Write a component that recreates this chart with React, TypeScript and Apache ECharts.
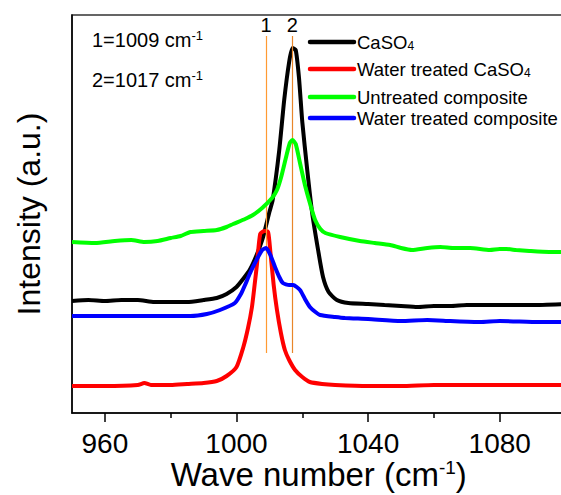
import React, { useEffect, useRef } from "react";
import * as echarts from "echarts";

const FONT = "Liberation Sans, Arial, Helvetica, sans-serif";

const xTickValues = [960, 1000, 1040, 1080];
const xMinorTickValues = [980, 1020, 1060, 1100];

const caso4X = [950, 955, 960, 965, 970, 975, 980, 985, 990, 994, 997, 1000, 1002, 1004, 1006, 1008, 1010, 1011, 1013, 1014.5, 1016, 1017, 1018, 1019, 1020, 1021.5, 1023, 1024.8, 1026.3, 1028, 1030.5, 1034, 1040, 1045, 1050, 1055, 1060, 1065, 1070, 1075, 1080, 1090, 1100];
const caso4Y = [112, 113, 112, 113, 113, 111, 111, 111, 113, 115, 119, 126, 134, 143, 157, 175, 201, 213, 263, 313, 351, 365, 363, 335, 291, 243, 200, 163, 136, 121, 113, 110, 109, 108, 107, 106, 107, 107, 108, 108, 108, 108, 109];

const waterCaso4X = [950, 960, 970, 972, 974, 980, 985, 990, 994, 997, 1000, 1002, 1003.5, 1004.7, 1005.5, 1006.2, 1007.2, 1008.5, 1009.6, 1010.3, 1011.3, 1012.3, 1013.5, 1014.7, 1016, 1017.8, 1020, 1022.3, 1026, 1030, 1040, 1050, 1060, 1070, 1080, 1090, 1100];
const waterCaso4Y = [27, 27, 28, 30, 28, 28, 29, 30, 32, 37, 46, 65, 85, 106, 128, 148, 179, 182, 181, 161, 128, 103, 80, 63, 53, 43, 36, 31, 29, 28, 27, 27, 28, 28, 28, 28, 28];

const untreatedX = [950, 957, 963, 968, 972, 976, 980, 983, 986, 990, 994, 997, 999, 1002.6, 1005, 1007.8, 1010.8, 1012.3, 1013.5, 1015, 1016.2, 1017, 1018, 1019.3, 1020.8, 1022.3, 1023.9, 1025.5, 1027, 1031.5, 1037.5, 1042, 1046.7, 1050, 1053.3, 1058, 1062, 1066, 1071, 1077, 1080, 1082, 1085, 1089, 1095, 1100];
const untreatedY = [171, 170, 172, 173, 171, 172, 175, 177, 181, 182, 183, 186, 189, 194, 198, 205, 215, 223, 235, 255, 270, 273, 269, 250, 228, 210, 193, 184, 180, 176, 172, 170, 168, 165, 163, 165, 166, 165, 165, 163, 164, 164, 163, 162, 161, 161];

const waterCompX = [950, 960, 970, 980, 986, 991, 995, 999.5, 1001.5, 1002.6, 1004, 1005.6, 1007.8, 1009, 1010.3, 1011.7, 1013, 1014.1, 1016, 1017.2, 1019.3, 1020.8, 1022.3, 1024, 1025.4, 1030, 1033, 1040, 1050, 1058, 1065, 1074, 1080, 1092, 1100];
const waterCompY = [97, 97, 97, 97, 97, 99, 103, 110, 120, 128, 139, 150, 163, 165, 158, 146, 136, 130, 128, 128, 123, 114, 106, 101, 98, 96, 95, 94, 92, 93, 92, 91, 92, 91, 91];

const peakPositions = [1009, 1017];
const peakLabels = ["1", "2"];
const peakColors = ["#FF9A33", "#E8862A"];
const peakLineRange = [60, 377];

const seriesNames = ["CaSO4", "Water treated CaSO4", "Untreated composite", "Water treated composite"];
const seriesLegendRich = ["{a|CaSO}{b|4}", "{a|Water treated CaSO}{b|4}", "{a|Untreated composite}", "{a|Water treated composite}"];
const seriesColors = ["#000000", "#FF0000", "#00FF00", "#0000FF"];
const legendRowsY = [42, 69, 97, 118];

function zip(xs: number[], ys: number[]) {
  return xs.map((x, i) => [x, ys[i]]);
}

export default function App() {
  const ref = useRef<HTMLDivElement>(null);

  useEffect(() => {
    if (!ref.current) return;
    const chart = echarts.init(ref.current, undefined, { renderer: "svg" });
    const datasets = [
      zip(caso4X, caso4Y),
      zip(waterCaso4X, waterCaso4Y),
      zip(untreatedX, untreatedY),
      zip(waterCompX, waterCompY),
    ];

    const series: any[] = datasets.map((d, i) => ({
      name: seriesNames[i],
      type: "line",
      data: d,
      showSymbol: false,
      symbol: "none",
      smooth: 0.2,
      lineStyle: { color: seriesColors[i], width: 4 },
      itemStyle: { color: seriesColors[i] },
      z: 3 + i,
    }));

    series[0].markLine = {
      silent: true,
      symbol: ["none", "none"],
      animation: false,
      data: peakPositions.map((p, i) => [
        { coord: [p, peakLineRange[0]], lineStyle: { color: peakColors[i], width: 1.2, type: "solid" } },
        {
          coord: [p, peakLineRange[1]],
          label: {
            show: true,
            position: "end",
            formatter: peakLabels[i],
            fontSize: 20,
            fontFamily: FONT,
            color: "#000",
            distance: 1,
          },
        },
      ]),
    };

    const graphics: any[] = [];
    legendRowsY.forEach((y, i) => {
      graphics.push({
        type: "line",
        shape: { x1: 310, y1: y, x2: 354, y2: y },
        style: { stroke: seriesColors[i], lineWidth: 4.5, lineCap: "round" },
        z: 100,
      });
      graphics.push({
        type: "text",
        x: 357,
        y: y,
        style: {
          text: seriesLegendRich[i],
          verticalAlign: "middle",
          align: "left",
          rich: {
            a: { fontSize: 18.5, fontFamily: FONT, fill: "#000", color: "#000", lineHeight: 20 },
            b: { fontSize: 12, fontFamily: FONT, fill: "#000", color: "#000", lineHeight: 20, verticalAlign: "bottom" },
          },
        },
        z: 100,
      });
    });
    const annots = ["{a|1=1009 cm}{s|-1}", "{a|2=1017 cm}{s|-1}"];
    const annotY = [40, 80];
    annots.forEach((t, i) => {
      graphics.push({
        type: "text",
        x: 92,
        y: annotY[i],
        style: {
          text: t,
          verticalAlign: "middle",
          align: "left",
          rich: {
            a: { fontSize: 20, fontFamily: FONT, fill: "#000", color: "#000", lineHeight: 22 },
            s: { fontSize: 13, fontFamily: FONT, fill: "#000", color: "#000", lineHeight: 22, verticalAlign: "top" },
          },
        },
        z: 100,
      });
    });

    chart.setOption({
      animation: false,
      backgroundColor: "#ffffff",
      grid: {
        left: 72,
        top: 15,
        right: 4.5,
        bottom: 82,
        outerBoundsMode: "none",
        containLabel: false,
        show: true,
        borderColor: "#333",
        borderWidth: 1.5,
        backgroundColor: "transparent",
      },
      xAxis: [
        {
          type: "value",
          min: 950,
          max: 1100,
          axisLine: { show: true, onZero: false, lineStyle: { color: "#000", width: 1.5 } },
          axisTick: { show: true, inside: false, length: 9, lineStyle: { color: "#000", width: 1.5 }, customValues: xTickValues },
          axisLabel: {
            show: true,
            customValues: xTickValues,
            formatter: (v: number) => String(v),
            fontSize: 28,
            fontFamily: FONT,
            color: "#000",
            margin: 16,
          },
          splitLine: { show: false },
          name: "{a|Wave number (cm}{s|-1}{a|)}",
          nameLocation: "middle",
          nameGap: 45,
          nameMoveOverlap: false,
          nameTextStyle: {
            rich: {
              a: { fontSize: 33, fontFamily: FONT, color: "#000", lineHeight: 33 },
              s: { fontSize: 19, fontFamily: FONT, color: "#000", lineHeight: 33, verticalAlign: "top" },
            },
          },
        },
        {
          type: "value",
          min: 950,
          max: 1100,
          position: "bottom",
          axisLine: { show: false },
          axisTick: { show: true, inside: false, length: 5, lineStyle: { color: "#000", width: 1.5 }, customValues: xMinorTickValues },
          axisLabel: { show: false },
          splitLine: { show: false },
        },
      ],
      yAxis: {
        type: "value",
        min: 0,
        max: 398,
        axisLine: { show: true, lineStyle: { color: "#000", width: 1.5 } },
        axisTick: { show: false },
        axisLabel: { show: false },
        splitLine: { show: false },
        name: "Intensity (a.u.)",
        nameLocation: "middle",
        nameGap: 27,
        nameMoveOverlap: false,
        nameTextStyle: { fontSize: 32, fontFamily: FONT, color: "#000" },
      },
      series,
      graphic: graphics,
    });

    return () => {
      chart.dispose();
    };
  }, []);

  return (
    <div style={{ position: "absolute", left: 0, top: 0, width: 561, height: 495, overflow: "hidden" }}>
      <div ref={ref} style={{ width: 570, height: 495 }} />
    </div>
  );
}
